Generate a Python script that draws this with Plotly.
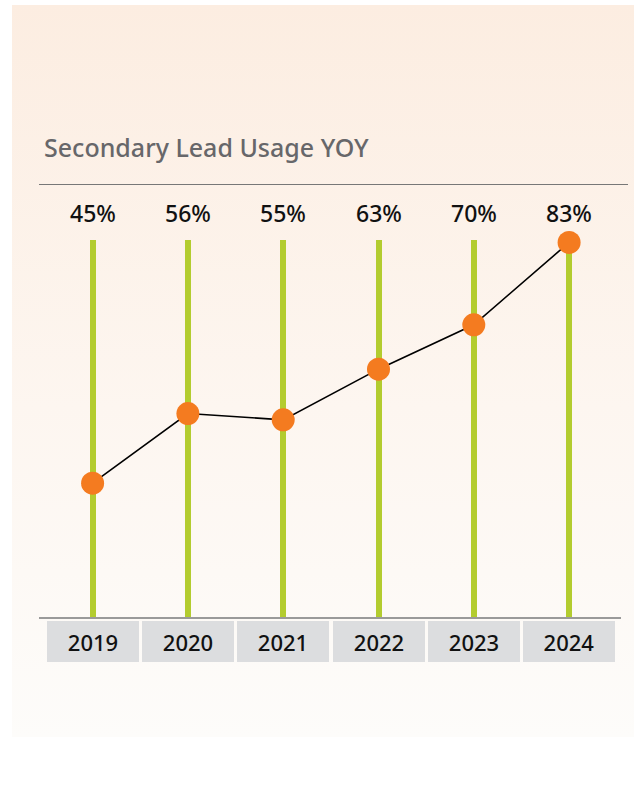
import base64
import plotly.graph_objects as go

years = ["2019", "2020", "2021", "2022", "2023", "2024"]
usage = [45, 56, 55, 63, 70, 83]
title_text = "Secondary Lead Usage YOY"

W, H = 634, 801
ML, MR, MT, MB = 39, 13, 240, 184
pw, ph = W - ML - MR, H - MT - MB

def px_to_paper_x(px):
    return (px - ML) / pw

def px_to_paper_y(py):
    return (H - MB - py) / ph

xs = list(range(len(years)))
FONT = "Noto Sans"

svg = ("<svg xmlns='http://www.w3.org/2000/svg' width='622' height='732' viewBox='0 0 622 732' preserveAspectRatio='none'>"
       "<defs><linearGradient id='g' x1='0' y1='0' x2='0' y2='1'>"
       "<stop offset='0' stop-color='#FCEDE1'/><stop offset='0.55' stop-color='#FDF6F0'/>"
       "<stop offset='1' stop-color='#FDFCFA'/></linearGradient></defs>"
       "<rect width='622' height='732' fill='url(#g)'/></svg>")
svg_uri = "data:image/svg+xml;base64," + base64.b64encode(svg.encode()).decode()

fig = go.Figure()
fig.add_trace(go.Scatter(
    x=xs, y=usage, mode="lines+markers",
    line=dict(color="#000000", width=1.6),
    marker=dict(color="#F47B20", size=23, line=dict(width=0)),
    cliponaxis=False, hoverinfo="skip", showlegend=False,
))

annotations = []
for i, (yr, v) in enumerate(zip(years, usage)):
    annotations.append(dict(
        x=i, y=px_to_paper_y(213), xref="x", yref="paper",
        text=f"{v}%", showarrow=False, xanchor="center", yanchor="middle",
        font=dict(family=FONT, size=23, color="#111111", weight=500),
    ))
    annotations.append(dict(
        x=i, y=px_to_paper_y(641), xref="x", yref="paper",
        text=yr, showarrow=False, xanchor="center", yanchor="middle",
        width=92, height=41, bgcolor="#DCDDDF", borderpad=0, borderwidth=0,
        font=dict(family=FONT, size=22, color="#111111", weight=500),
    ))
annotations.append(dict(
    x=px_to_paper_x(42), y=px_to_paper_y(147), xref="paper", yref="paper",
    text=title_text, showarrow=False, xanchor="left", yanchor="middle",
    font=dict(family=FONT, size=25, color="#67676A", weight=500),
))

fig.update_layout(
    width=W, height=H,
    margin=dict(l=ML, r=MR, t=MT, b=MB, pad=0),
    paper_bgcolor="#FFFFFF", plot_bgcolor="rgba(0,0,0,0)",
    xaxis=dict(range=[-0.5624, 5.5446], tickmode="array", tickvals=xs,
               showticklabels=False, ticks="", showgrid=True,
               gridcolor="#B3CC2F", gridwidth=6, zeroline=False,
               showline=True, linecolor="#9A9A9A", linewidth=1.5, fixedrange=True),
    yaxis=dict(range=[23.89, 83.38], showgrid=False, showticklabels=False,
               zeroline=False, showline=False, ticks="", fixedrange=True),
    annotations=annotations,
    shapes=[dict(type="line", xref="paper", yref="paper",
                 x0=px_to_paper_x(39), x1=px_to_paper_x(628),
                 y0=px_to_paper_y(184.5), y1=px_to_paper_y(184.5),
                 line=dict(color="#777777", width=1))],
    images=[dict(source=svg_uri, xref="paper", yref="paper",
                 x=px_to_paper_x(12), y=px_to_paper_y(5),
                 sizex=(634 - 12) / pw, sizey=(737 - 5) / ph,
                 xanchor="left", yanchor="top", sizing="stretch", layer="below")],
)

fig.write_html("out.html", config={"displayModeBar": False, "staticPlot": True},
               post_script="document.body.style.margin='0';document.body.style.overflow='hidden';")
